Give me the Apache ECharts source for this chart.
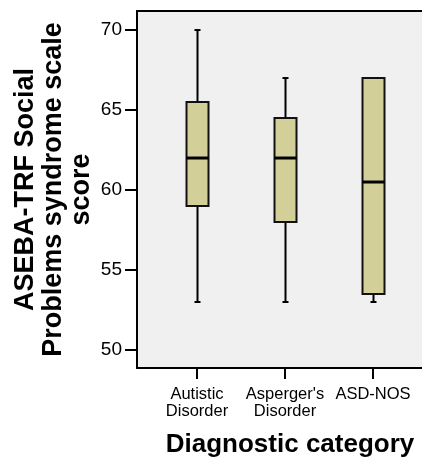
<!DOCTYPE html>
<html>
<head>
<meta charset="utf-8">
<script src="https://cdn.jsdelivr.net/npm/echarts@6/dist/echarts.min.js"></script>
<style>
  html, body { margin: 0; padding: 0; background: #ffffff; overflow: hidden; }
  #chart { width: 422px; height: 461px; }
</style>
</head>
<body>
<div id="chart"></div>
<script>
// Diagnostic groups, placed at positions 1..3 on the horizontal axis
const categories = ['Autistic\nDisorder', "Asperger's\nDisorder", 'ASD-NOS'];
const positions = [1, 2, 3];

// Five-number summaries of the Social Problems score per group
const whiskerLow  = [53, 53, 53];
const quartile1   = [59, 58, 53.5];
const medians     = [62, 62, 60.5];
const quartile3   = [65.5, 64.5, 67];
const whiskerHigh = [70, 67, 67];

const yTicks = [50, 55, 60, 65, 70];

const boxData = positions.map((p, i) => [p, whiskerLow[i], quartile1[i], medians[i], quartile3[i], whiskerHigh[i]]);

const FONT = '"Liberation Sans", Arial, sans-serif';
const BOX_W = 22;
const CAP_W = 6;
// the plot area runs past the right edge of the canvas
const X_MIN = 0.318, X_MAX = 4.068;

function renderBox(params, api) {
  const x = api.value(0);
  const pLow = api.coord([x, api.value(1)]);
  const pQ1 = api.coord([x, api.value(2)]);
  const pMed = api.coord([x, api.value(3)]);
  const pQ3 = api.coord([x, api.value(4)]);
  const pHigh = api.coord([x, api.value(5)]);
  const cx = Math.round(pMed[0]) + 0.5;
  const half = BOX_W / 2;
  const line = { stroke: '#000', lineWidth: 2, fill: null };
  return {
    type: 'group',
    children: [
      { type: 'line', shape: { x1: cx, y1: pHigh[1], x2: cx, y2: pQ3[1] }, style: line },
      { type: 'line', shape: { x1: cx, y1: pQ1[1], x2: cx, y2: pLow[1] }, style: line },
      { type: 'line', shape: { x1: cx - CAP_W / 2, y1: pHigh[1], x2: cx + CAP_W / 2, y2: pHigh[1] }, style: line },
      { type: 'line', shape: { x1: cx - CAP_W / 2, y1: pLow[1], x2: cx + CAP_W / 2, y2: pLow[1] }, style: line },
      {
        type: 'rect',
        shape: { x: cx - half, y: pQ3[1], width: BOX_W, height: pQ1[1] - pQ3[1] },
        style: { fill: '#d3cf98', stroke: '#111', lineWidth: 2 }
      },
      { type: 'line', shape: { x1: cx - half, y1: pMed[1], x2: cx + half, y2: pMed[1] }, style: { stroke: '#000', lineWidth: 3 } }
    ]
  };
}

const chart = echarts.init(document.getElementById('chart'), null, { renderer: 'canvas' });
chart.setOption({
  animation: false,
  backgroundColor: '#ffffff',
  grid: {
    left: 137, top: 11, width: 330, height: 357,
    outerBoundsMode: 'none',
    containLabel: false,
    show: true, backgroundColor: '#f0f0f0', borderWidth: 0
  },
  xAxis: [{
    type: 'value',
    min: X_MIN, max: X_MAX,
    name: 'Diagnostic category',
    nameLocation: 'middle',
    nameGap: 64,
    nameMoveOverlap: false,
    nameTextStyle: { fontFamily: FONT, fontWeight: 'bold', fontSize: 26, color: '#000', align: 'center', padding: [0, 24, 0, 0] },
    axisLine: { show: true, lineStyle: { color: '#000', width: 2 } },
    axisTick: { show: true, customValues: positions, length: 11, inside: false, lineStyle: { color: '#000', width: 2 } },
    axisLabel: {
      customValues: positions,
      formatter: v => categories[positions.indexOf(Math.round(v))] || '',
      fontFamily: FONT, fontSize: 16.5, color: '#000', lineHeight: 17, margin: 18
    },
    splitLine: { show: false }
  }, {
    // top frame line of the plot area
    type: 'value',
    position: 'top',
    min: X_MIN, max: X_MAX,
    axisLine: { show: true, lineStyle: { color: '#000', width: 2 } },
    axisTick: { show: false },
    axisLabel: { show: false },
    splitLine: { show: false }
  }],
  yAxis: {
    type: 'value',
    min: 48.875, max: 71.19,
    name: 'ASEBA-TRF Social\nProblems syndrome scale\nscore',
    nameLocation: 'middle',
    nameGap: 41,
    nameMoveOverlap: false,
    nameTextStyle: { fontFamily: FONT, fontWeight: 'bold', fontSize: 27, color: '#000', lineHeight: 28, align: 'center' },
    axisLine: { show: true, lineStyle: { color: '#000', width: 2 } },
    axisTick: { show: true, customValues: yTicks, length: 12, inside: false, lineStyle: { color: '#000', width: 2 } },
    axisLabel: { customValues: yTicks, fontFamily: FONT, fontSize: 19, color: '#000', margin: 15 },
    splitLine: { show: false }
  },
  series: [{
    type: 'custom',
    xAxisIndex: 0,
    renderItem: renderBox,
    encode: { x: 0, y: [1, 2, 3, 4, 5] },
    data: boxData
  }]
});
</script>
</body>
</html>
